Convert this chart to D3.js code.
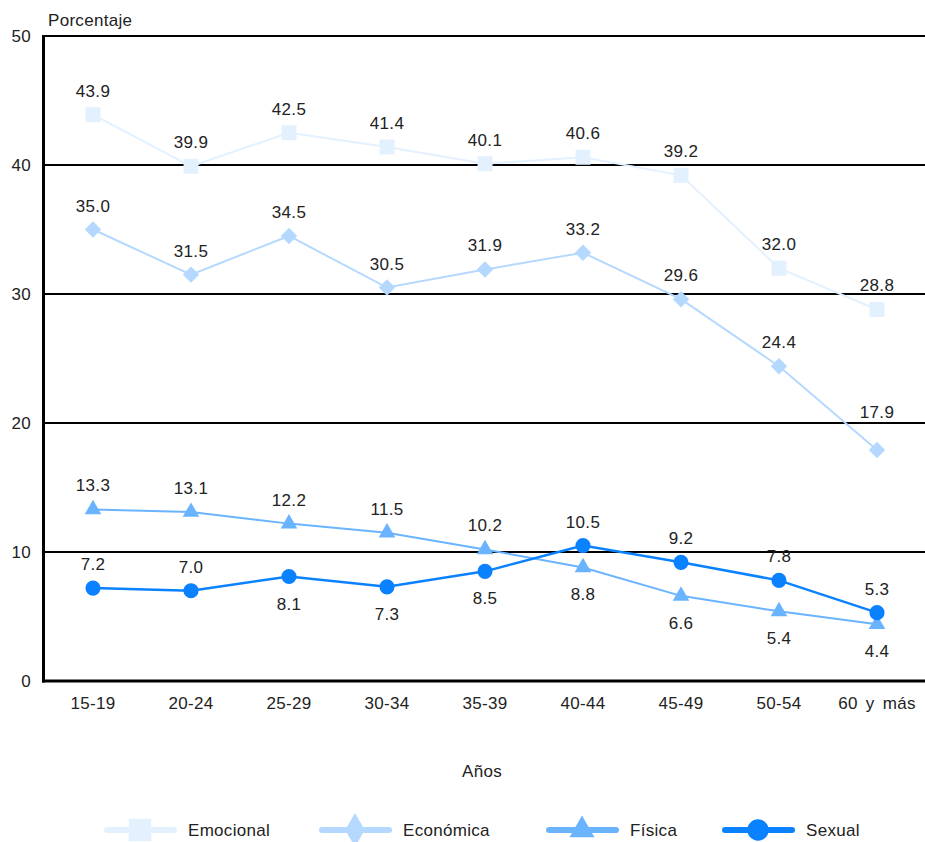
<!DOCTYPE html>
<html><head><meta charset="utf-8">
<script src="https://cdn.jsdelivr.net/npm/d3@7"></script>
<style>body{margin:0;background:#fff}svg{display:block;font-family:"Liberation Sans",Arial,sans-serif}</style>
</head><body><svg id="c" width="925" height="842"></svg>
<script>
const categories = ["15-19","20-24","25-29","30-34","35-39","40-44","45-49","50-54","60 y más"];
const emocional = [43.9,39.9,42.5,41.4,40.1,40.6,39.2,32.0,28.8];
const economica = [35.0,31.5,34.5,30.5,31.9,33.2,29.6,24.4,17.9];
const fisica = [13.3,13.1,12.2,11.5,10.2,8.8,6.6,5.4,4.4];
const sexual = [7.2,7.0,8.1,7.3,8.5,10.5,9.2,7.8,5.3];
const emocionalLabelPos = ["a","a","a","a","a","a","a","a","a"];
const economicaLabelPos = ["a","a","a","a","a","a","a","a","h"];
const fisicaLabelPos = ["a","a","a","a","a","b","b","b","b"];
const sexualLabelPos = ["a","a","b","b","b","a","a","a","a"];
const yTicks = [0,10,20,30,40,50];
const seriesNames = ["Emocional","Económica","Física","Sexual"];

const FS = 17, LS = "0.3px";
const labelOffset = {a:-18, h:-32, b:33};
const svg = d3.select("#c");
const x = d3.scaleBand().domain(categories).range([44, 926]);
const y = d3.scaleLinear().domain([0,50]).range([681, 36]);
const cx = c => x(c) + x.bandwidth()/2;

const series = [
  {name:seriesNames[0], values:emocional, color:"#e3f1ff", sym:d3.symbolSquare, size:225, rot:0, legSym:d3.symbolSquare, legSize:500, pos:emocionalLabelPos, w:2},
  {name:seriesNames[1], values:economica, color:"#b5d8ff", sym:d3.symbolSquare, size:135, rot:45, legSym:d3.symbolDiamond, legSize:330, pos:economicaLabelPos, w:2},
  {name:seriesNames[2], values:fisica, color:"#6ab4ff", sym:d3.symbolTriangle, size:120, rot:0, legSym:d3.symbolTriangle, legSize:270, pos:fisicaLabelPos, w:2},
  {name:seriesNames[3], values:sexual, color:"#0a82ff", sym:d3.symbolCircle, size:180, rot:0, legSym:d3.symbolCircle, legSize:360, pos:sexualLabelPos, w:2.5}
];

// gridlines
svg.append("g").selectAll("line").data(yTicks.filter(t=>t>0)).join("line")
  .attr("x1",44).attr("x2",925).attr("y1",d=>y(d)).attr("y2",d=>y(d))
  .attr("stroke","#000").attr("stroke-width",2);
// axes lines
svg.append("line").attr("x1",43.5).attr("x2",43.5).attr("y1",35).attr("y2",682.5).attr("stroke","#000").attr("stroke-width",3);
svg.append("line").attr("x1",42).attr("x2",925).attr("y1",681).attr("y2",681).attr("stroke","#000").attr("stroke-width",3);

// y tick labels
svg.append("g").selectAll("text").data(yTicks).join("text")
  .attr("x",31).attr("y",d=>y(d)+6).attr("text-anchor","end")
  .attr("font-size",FS).attr("letter-spacing",LS).attr("fill","#222").text(d=>d);
svg.append("text").attr("x",48).attr("y",26).attr("font-size",FS).attr("letter-spacing",LS).attr("fill","#222").text("Porcentaje");

// x tick labels
svg.append("g").selectAll("text").data(categories).join("text")
  .attr("x",d=>cx(d)).attr("y",709).attr("text-anchor","middle")
  .attr("font-size",FS).attr("letter-spacing",LS).attr("fill","#222").attr("word-spacing",3).text(d=>d);
svg.append("text").attr("x",482).attr("y",777).attr("text-anchor","middle").attr("font-size",FS).attr("letter-spacing",LS).attr("fill","#222").text("Años");

const line = d3.line().x((d,i)=>cx(categories[i])).y(d=>y(d));
series.forEach(s=>{
  const g = svg.append("g");
  g.append("path").attr("d",line(s.values)).attr("fill","none").attr("stroke",s.color).attr("stroke-width",s.w);
  g.selectAll("path.m").data(s.values).join("path").attr("class","m")
    .attr("transform",(d,i)=>`translate(${cx(categories[i])},${y(d)}) rotate(${s.rot})`)
    .attr("d",d3.symbol().type(s.sym).size(s.size)).attr("fill",s.color);
  g.selectAll("text").data(s.values).join("text")
    .attr("x",(d,i)=>cx(categories[i]))
    .attr("y",(d,i)=> y(d) + labelOffset[s.pos[i]])
    .attr("text-anchor","middle").attr("font-size",FS).attr("letter-spacing",LS).attr("fill","#222")
    .text(d=>d.toFixed(1));
});

// legend
const legX = [107, 322, 549, 725];
const lg = svg.append("g");
series.forEach((s,i)=>{
  const x0 = legX[i], yy = 830;
  lg.append("line").attr("x1",x0).attr("x2",x0+67).attr("y1",yy).attr("y2",yy)
    .attr("stroke",s.color).attr("stroke-width",6).attr("stroke-linecap","round");
  lg.append("path").attr("transform",`translate(${x0+33},${yy})`)
    .attr("d",d3.symbol().type(s.legSym).size(s.legSize)).attr("fill",s.color);
  lg.append("text").attr("x",x0+81).attr("y",yy+6).attr("font-size",FS).attr("letter-spacing",LS).attr("fill","#222").text(s.name);
});
</script></body></html>
